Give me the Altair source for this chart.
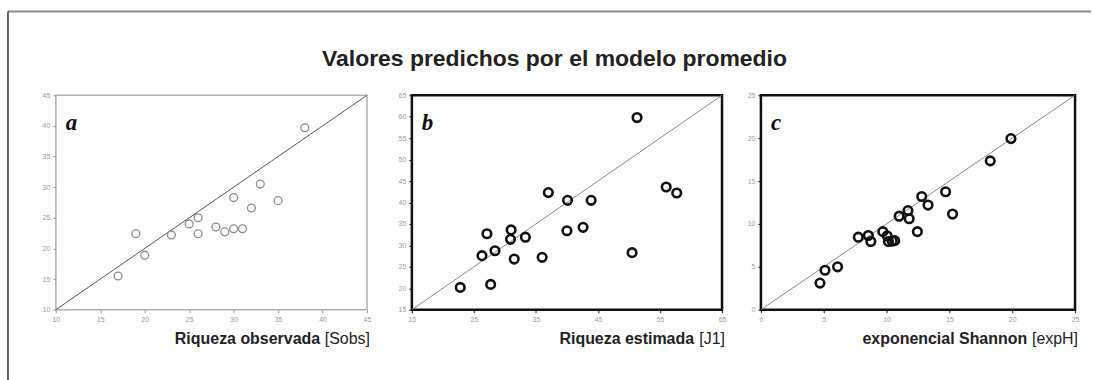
import altair as alt
import pandas as pd

# Panel a: observed richness vs. model-averaged prediction
sobs_obs = [17, 19, 20, 23, 25, 26, 26, 28, 29, 30, 31, 30, 32, 33, 35, 38]
sobs_pred = [15.5, 22.4, 18.9, 22.2, 24.0, 25.0, 22.4, 23.5, 22.7, 23.2, 23.2,
             28.3, 26.6, 30.5, 27.8, 39.7]

# Panel b: estimated richness (Jackknife 1)
j1_obs = [22.8, 27.1, 26.3, 28.4, 27.7, 31.0, 30.9, 31.5, 33.3, 36.0, 37.0,
          40.0, 40.1, 42.6, 43.9, 50.5, 51.3, 56.0, 57.7]
j1_pred = [20.2, 32.7, 27.6, 28.75, 20.9, 33.6, 31.4, 26.8, 31.9, 27.2, 42.3,
           33.4, 40.5, 34.2, 40.5, 28.3, 59.8, 43.6, 42.2]

# Panel c: exponential of Shannon diversity
exph_obs = [4.7, 5.1, 6.1, 7.75, 8.55, 8.75, 9.7, 10.05, 10.15, 10.45, 10.65,
            11.0, 11.7, 11.8, 12.45, 12.8, 13.3, 14.7, 15.25, 18.25, 19.9]
exph_pred = [3.1, 4.6, 5.0, 8.45, 8.65, 7.95, 9.1, 8.6, 7.95, 8.0, 8.05,
             10.9, 11.55, 10.6, 9.1, 13.2, 12.2, 13.75, 11.15, 17.35, 19.95]

TICK_A = [10, 15, 20, 25, 30, 35, 40, 45]
TICK_B_X = [15, 25, 35, 45, 55, 65]
TICK_B_Y = [15, 20, 25, 30, 35, 40, 45, 50, 55, 60, 65]
TICK_C = [0, 5, 10, 15, 20, 25]

SANS = "Liberation Sans"
SERIF = "Liberation Serif"
H = 215


def axis(values, tick_color):
    return alt.Axis(values=values, title=None, domain=False, grid=False,
                    ticks=True, tickSize=3, tickColor=tick_color, tickWidth=1,
                    labelFontSize=7, labelColor="#9a9a9a", labelFont=SANS,
                    labelPadding=3, labelOverlap=False, labelFlush=False,
                    labelBound=False)


def text_layer(label, **mark):
    return alt.Chart(pd.DataFrame({"label": [label]})).mark_text(**mark)


def panel(xs, ys, lo, hi, xticks, yticks, width, letter, bold_title,
          unit_title, unit_width, pt_color, pt_size, pt_stroke,
          line_color, frame_color, frame_width, tick_color):
    df = pd.DataFrame({"obs": xs, "pred": ys})
    xenc = alt.X("obs:Q", scale=alt.Scale(domain=[lo, hi], nice=False, zero=False),
                 axis=axis(xticks, tick_color))
    yenc = alt.Y("pred:Q", scale=alt.Scale(domain=[lo, hi], nice=False, zero=False),
                 axis=axis(yticks, tick_color))

    diag = alt.Chart(pd.DataFrame({"obs": [lo, hi], "pred": [lo, hi]})).mark_line(
        color=line_color, strokeWidth=1, clip=True
    ).encode(x=xenc, y=yenc)

    pts = alt.Chart(df).mark_point(
        shape="circle", filled=False, color=pt_color, size=pt_size,
        strokeWidth=pt_stroke, opacity=1
    ).encode(x=xenc, y=yenc)

    tag = text_layer(letter, font=SERIF, fontSize=23, fontWeight="bold",
                     fontStyle="italic", align="left", baseline="alphabetic",
                     color="#111").encode(
        x=alt.value(10), y=alt.value(35), text="label:N")

    unit = text_layer(unit_title, font=SANS, fontSize=16, fontWeight="normal",
                      align="right", baseline="middle", color="#222").encode(
        x=alt.value(width + 3), y=alt.value(H + 29), text="label:N")

    bold = text_layer(bold_title, font=SANS, fontSize=16, fontWeight="bold",
                      align="right", baseline="middle", color="#222",
                      dx=-unit_width).encode(
        x=alt.value(width + 3), y=alt.value(H + 29), text="label:N")

    return alt.layer(diag, pts, tag, bold, unit).properties(
        width=width, height=H,
        view=alt.ViewConfig(stroke=frame_color, strokeWidth=frame_width),
    )


panel_a = panel(sobs_obs, sobs_pred, 10, 45, TICK_A, TICK_A, 312, "a",
                "Riqueza observada", "[Sobs]", 50,
                "#8c8c8c", 62, 1.3, "#555555", "#b0b0b0", 1.5, "#9a9a9a")

panel_b = panel(j1_obs, j1_pred, 15, 65, TICK_B_X, TICK_B_Y, 311, "b",
                "Riqueza estimada", "[J1]", 31,
                "#111111", 74, 2.6, "#8a8a8a", "#111111", 2.5, "#111111")

panel_c = panel(exph_obs, exph_pred, 0, 25, TICK_C, TICK_C, 315, "c",
                "exponencial Shannon", "[expH]", 51,
                "#111111", 74, 2.6, "#8a8a8a", "#111111", 2.5, "#111111")

# Outer frame lines and the figure heading, placed relative to panel a
one = pd.DataFrame({"k": [0]})
frame_top = alt.Chart(one).mark_rule(color="#8a8a8a", strokeWidth=2).encode(
    x=alt.value(-48), x2=alt.value(1038), y=alt.value(-84))
frame_left = alt.Chart(one).mark_rule(color="#333333", strokeWidth=1.5).encode(
    x=alt.value(-48), y=alt.value(-84), y2=alt.value(286))
heading = text_layer("Valores predichos por el modelo promedio", font=SANS,
                     fontSize=23, fontWeight="bold", align="center",
                     baseline="middle", color="#222").encode(
    x=alt.value(500), y=alt.value(-36), text="label:N")

panel_a = alt.layer(panel_a, frame_top, frame_left, heading)

right = alt.hconcat(panel_b, panel_c, spacing=39, bounds="flush")
chart = alt.hconcat(panel_a, right, spacing=45, bounds="flush").properties(
    padding={"left": 6, "top": 9, "right": 0, "bottom": 0},
    background="white",
).configure_axis(labelOverlap=False)

chart.save("out.html", embed_options={"renderer": "svg", "actions": False})
